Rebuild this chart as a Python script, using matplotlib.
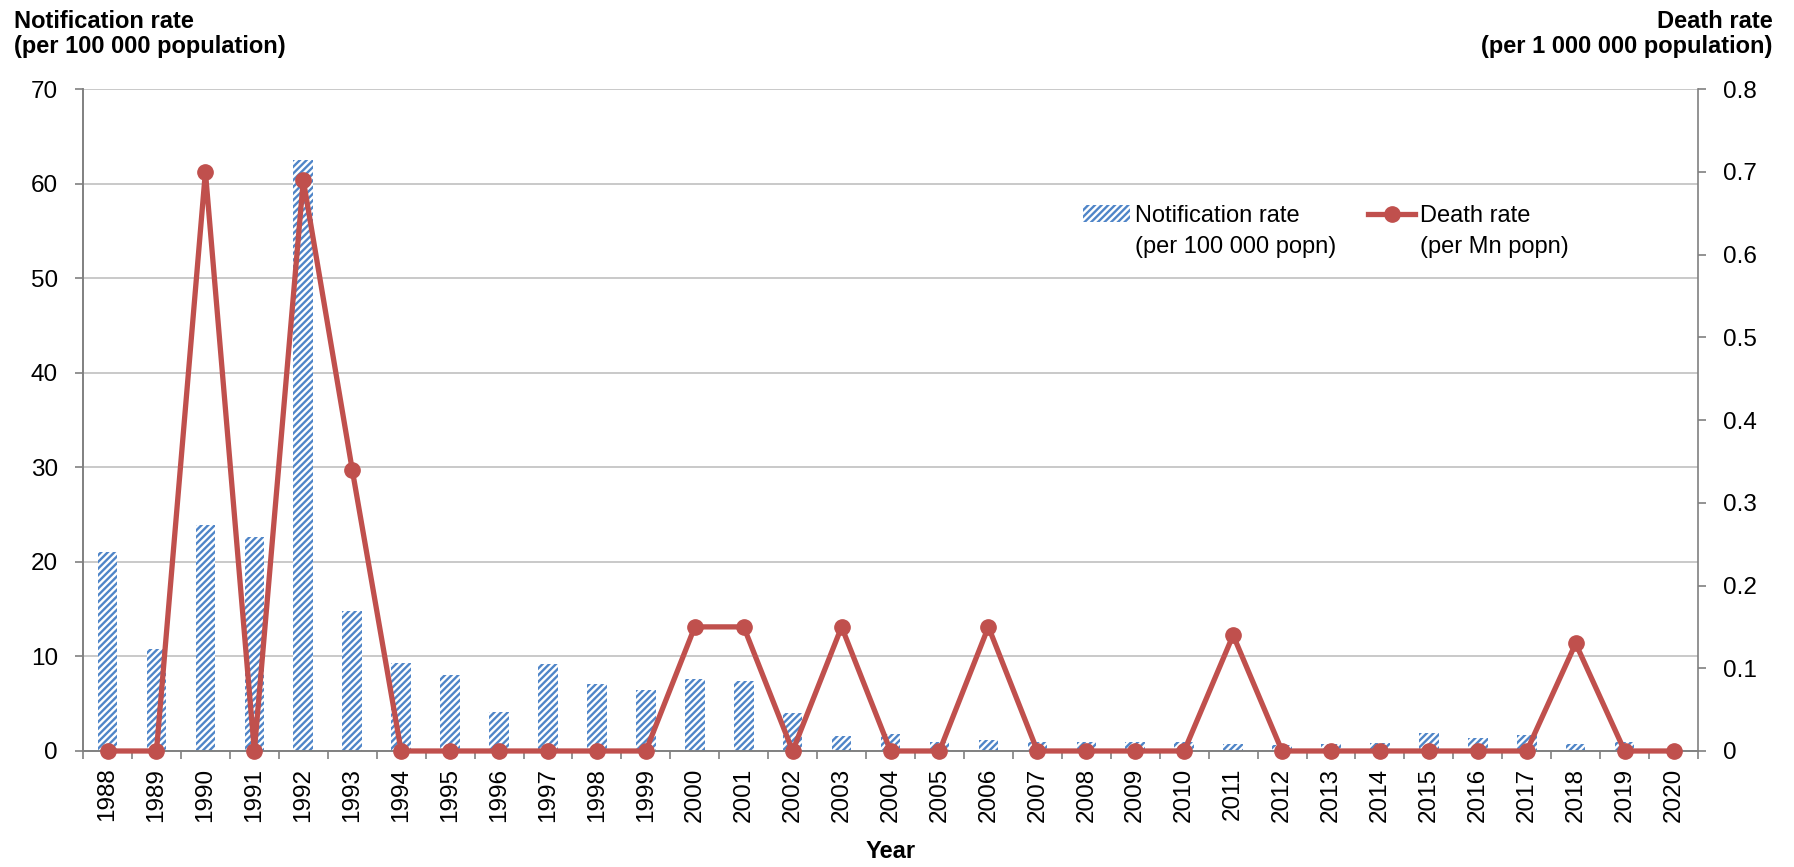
import matplotlib
matplotlib.use("Agg")
import matplotlib.pyplot as plt
import numpy as np
from matplotlib.lines import Line2D
from matplotlib.patches import Patch
from matplotlib.transforms import offset_copy

plt.rcParams["font.family"] = ["Liberation Sans", "DejaVu Sans"]
plt.rcParams["hatch.linewidth"] = 1.7

years = list(range(1988, 2021))
notif_rate = [21.0, 10.8, 23.9, 22.6, 62.5, 14.8, 9.3, 8.0, 4.1, 9.2, 7.1,
              6.4, 7.6, 7.4, 4.0, 1.6, 1.8, 0.9, 1.2, 1.0, 1.0, 0.9, 0.9,
              0.7, 0.6, 0.7, 0.8, 1.9, 1.4, 1.7, 0.7, 1.0, 0.0]
death_rate = [0, 0, 0.70, 0, 0.69, 0.34, 0, 0, 0, 0, 0, 0, 0.15, 0.15, 0,
              0.15, 0, 0, 0.15, 0, 0, 0, 0, 0.14, 0, 0, 0, 0, 0, 0, 0.13, 0, 0]

blue = "#4f85c8"
red = "#c0504d"
grid_col = "#c0c0c0"
spine_col = "#808080"

fig = plt.figure(figsize=(17.94, 8.67), dpi=100)
ax = fig.add_axes([0.0463, 0.1338, 0.9002, 0.7635])
ax2 = ax.twinx()

x = np.arange(len(years))
ax.bar(x, notif_rate, width=0.4, facecolor="white", edgecolor=blue,
       hatch="/////", linewidth=0, zorder=2)
ax2.plot(x, death_rate, color=red, lw=3.8, marker="o", ms=11, zorder=3,
         clip_on=False)

ax.set_xlim(-0.5, len(years) - 0.5)
ax.set_ylim(0, 70)
ax.set_yticks(np.arange(0, 71, 10))
ax2.set_ylim(0, 0.8)
ax2.set_yticks(np.arange(0, 0.81, 0.1))
ax2.set_yticklabels(["0"] + [f"{v:.1f}" for v in np.arange(0.1, 0.81, 0.1)])

ax.yaxis.grid(True, color=grid_col, lw=1.2)
ax.set_axisbelow(True)

# year labels centred, tick marks between categories
ax.set_xticks(x)
ax.set_xticklabels([str(y) for y in years], rotation=90)
ax.set_xticks(np.arange(-0.5, len(years)), minor=True)
ax.tick_params(axis="x", which="major", length=0, labelsize=17.5, pad=12)
ax.tick_params(axis="x", which="minor", length=6, width=1.2, color=spine_col)
ax.tick_params(axis="y", length=6, width=1.2, color=spine_col, labelsize=17.5, pad=12)
ax2.tick_params(axis="y", length=6, width=1.2, color=spine_col, labelsize=17.5, pad=12)

for a in (ax, ax2):
    a.spines["top"].set_visible(False)
    for s in ("left", "right", "bottom"):
        a.spines[s].set_color(spine_col)
        a.spines[s].set_linewidth(1.2)
ax.spines["right"].set_visible(False)

ax.set_xlabel("Year", fontsize=17, fontweight="bold", labelpad=13)

fig.text(0.008, 0.988, "Notification rate\n(per 100 000 population)",
         ha="left", va="top", fontsize=17, fontweight="bold", linespacing=1.1)
fig.text(0.988, 0.988, "Death rate\n(per 1 000 000 population)",
         ha="right", va="top", fontsize=17, fontweight="bold",
         linespacing=1.1, multialignment="right")

handles = [Patch(facecolor="white", edgecolor=blue, hatch="/////", linewidth=0),
           Line2D([], [], color=red, lw=3.8, marker="o", ms=11)]
leg = fig.legend(handles, ["Notification rate", "Death rate"], ncol=2,
                 loc="upper left", bbox_to_anchor=(0.6037, 0.7636),
                 frameon=False, fontsize=17, borderpad=0, borderaxespad=0,
                 handlelength=2.0, handletextpad=0.2, columnspacing=2.9)

# second line of each legend entry, under its first line
fig.canvas.draw()
renderer = fig.canvas.get_renderer()
for t, sub in zip(leg.get_texts(), ["(per 100 000 popn)", "(per Mn popn)"]):
    bb = t.get_window_extent(renderer)
    tr = offset_copy(fig.transFigure, fig=fig, y=-9, units="dots")
    fig.text(bb.x0 / fig.bbox.width, bb.y0 / fig.bbox.height, sub,
             ha="left", va="top", fontsize=17, transform=tr)

fig.savefig("out.png", dpi=100)
